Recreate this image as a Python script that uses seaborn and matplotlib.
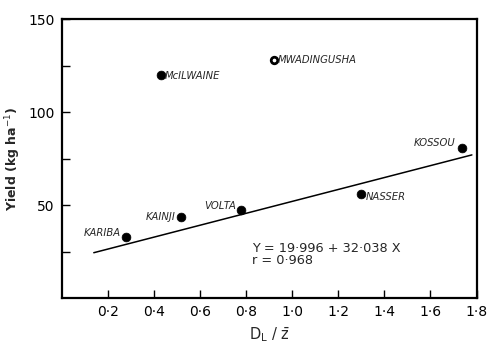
import matplotlib
matplotlib.use("Agg")
import matplotlib.pyplot as plt
import numpy as np
import pandas as pd
import seaborn as sns

# data
lakes = ["KARIBA", "KAINJI", "VOLTA", "NASSER", "KOSSOU", "McILWAINE", "MWADINGUSHA"]
dl_z = [0.28, 0.52, 0.78, 1.30, 1.735, 0.43, 0.92]
yield_kg = [33, 43.5, 47.5, 56, 81, 120, 128]

fit_a, fit_b = 19.996, 32.038
fit_x = [0.14, 1.78]

x_ticks = [0.2, 0.4, 0.6, 0.8, 1.0, 1.2, 1.4, 1.6, 1.8]
y_ticks = [25, 50, 75, 100, 125, 150]
y_labels = ["", "50", "", "100", "", "150"]

df = pd.DataFrame({"lake": lakes, "x": dl_z, "y": yield_kg})

sns.set_style("ticks")
plt.rcParams["font.family"] = ["DejaVu Sans"]

fig, ax = plt.subplots(figsize=(5, 3.53), dpi=100)
fig.subplots_adjust(left=0.123, right=0.953, top=0.946, bottom=0.155)

solid = df[df.lake != "MWADINGUSHA"]
sns.scatterplot(data=solid, x="x", y="y", color="black", s=40, edgecolor="black", ax=ax, zorder=3)
ring = df[df.lake == "MWADINGUSHA"]
sns.scatterplot(data=ring, x="x", y="y", color="white", s=22, edgecolor="black", linewidth=2, ax=ax, zorder=3)

fx = np.array(fit_x)
sns.lineplot(x=fx, y=fit_a + fit_b * fx, color="black", lw=1.1, ax=ax)

# point labels: (dx, dy, ha) in points
offsets = {
    "KARIBA": (-4, 3, "right"),
    "KAINJI": (-4, 0, "right"),
    "VOLTA": (-4, 3, "right"),
    "NASSER": (3, -2, "left"),
    "KOSSOU": (-4, 3, "right"),
    "McILWAINE": (3, -1, "left"),
    "MWADINGUSHA": (3, 0, "left"),
}
for name, x, y in zip(lakes, dl_z, yield_kg):
    dx, dy, ha = offsets[name]
    ax.annotate(name, (x, y), xytext=(dx, dy), textcoords="offset points",
                ha=ha, va="center", fontsize=7.2, style="italic")

ax.text(0.825, 27, "Y = 19·996 + 32·038 X", fontsize=9.3, ha="left", va="center")
ax.text(0.825, 20.5, "r = 0·968", fontsize=9.3, ha="left", va="center")

ax.set_xlim(0, 1.8)
ax.set_ylim(0, 150)
ax.set_xticks(x_ticks)
ax.set_xticklabels([f"{t:.1f}".replace(".", "·") for t in x_ticks])
ax.set_yticks(y_ticks)
ax.set_yticklabels(y_labels)
ax.tick_params(direction="in", length=6, width=1, labelsize=10, colors="black", pad=5)

for side in ["left", "right", "top", "bottom"]:
    ax.spines[side].set_visible(True)
    ax.spines[side].set_linewidth(1.6)
    ax.spines[side].set_color("black")

ax.set_xlabel(r"D$_\mathrm{L}$ / $\bar{\mathrm{z}}$", fontsize=10.5)
ax.set_ylabel(r"Yield (kg ha$^{-1}$)", fontsize=9, fontweight="bold")

fig.savefig("out.png", dpi=100)
